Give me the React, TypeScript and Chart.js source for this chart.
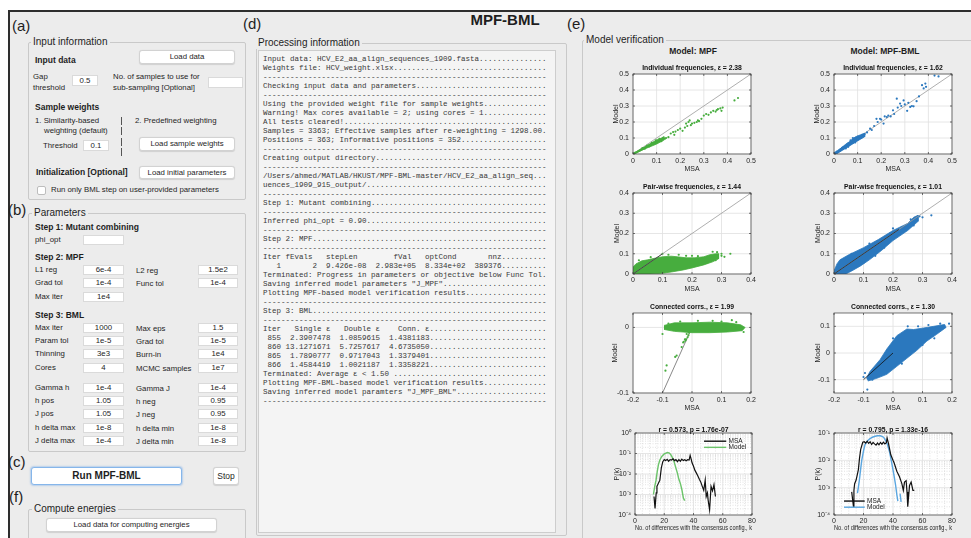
import React, { useEffect, useRef } from "react";
import { Chart, registerables } from "chart.js";
Chart.register(...registerables);

const SANS = '"Liberation Sans", Arial, Helvetica, sans-serif';
const MONO = '"Liberation Mono", "Courier New", monospace';
const BG = "#ececec";
const TXT = "#1e1e1e";
const AX = "#262626";
const GREEN = "#47ad3e";
const BLUE = "#2b78be";
const GREEN_LINE = "#6cc46a";
const BLUE_LINE = "#5aa6e0";

type P = [number, number];

// ---------------- tick values ----------------
const unitTicks5 = [0, 0.1, 0.2, 0.3, 0.4, 0.5];
const unitTicks4 = [0, 0.1, 0.2, 0.3, 0.4];
const corrXTicks = [-0.2, -0.1, 0, 0.1, 0.2];
const corrYTicksMPF = [-0.1, 0];
const corrYTicksBML = [-0.1, 0, 0.1];
const kTicks = [0, 20, 40, 60, 80];
const kMinor = [5, 10, 15, 25, 30, 35, 45, 50, 55, 65, 70, 75];
const decadesMPF = [1e-4, 1e-3, 1e-2, 1e-1, 1];
const decadesBML = [1e-4, 1e-3, 1e-2, 1e-1];

// ---------------- MPF: individual frequencies ----------------
const mpfSingleBand: P[] = [[0, 0.001], [0.05, 0.045], [0.1, 0.088], [0.13, 0.104], [0.13, 0.086], [0.1, 0.062], [0.05, 0.032], [0.005, 0]];
const mpfSinglePts: P[] = [
  [0.002, 0.001], [0.006, 0.004], [0.01, 0.008], [0.015, 0.011], [0.02, 0.015], [0.025, 0.019], [0.03, 0.023],
  [0.035, 0.027], [0.04, 0.031], [0.045, 0.035], [0.05, 0.039], [0.055, 0.043], [0.06, 0.047], [0.065, 0.05],
  [0.07, 0.055], [0.075, 0.058], [0.08, 0.062], [0.085, 0.065], [0.09, 0.07], [0.095, 0.072], [0.1, 0.077],
  [0.105, 0.08], [0.11, 0.084], [0.115, 0.087], [0.12, 0.091], [0.125, 0.098], [0.128, 0.1], [0.13, 0.104],
  [0.05, 0.033], [0.07, 0.048], [0.09, 0.064], [0.1, 0.07], [0.06, 0.052], [0.08, 0.07], [0.04, 0.037],
  [0.097, 0.085], [0.112, 0.095], [0.12, 0.08], [0.135, 0.095],
  [0.14, 0.1], [0.15, 0.105], [0.16, 0.128], [0.17, 0.137], [0.175, 0.12], [0.18, 0.14], [0.19, 0.15],
  [0.2, 0.158], [0.21, 0.145], [0.22, 0.165], [0.225, 0.19], [0.23, 0.175], [0.235, 0.2], [0.24, 0.21],
  [0.245, 0.18], [0.25, 0.19], [0.26, 0.195], [0.27, 0.2], [0.275, 0.21], [0.28, 0.205], [0.29, 0.22],
  [0.3, 0.24], [0.31, 0.25], [0.32, 0.245], [0.33, 0.26], [0.34, 0.27], [0.35, 0.265], [0.355, 0.275],
  [0.36, 0.28], [0.37, 0.285], [0.375, 0.27], [0.38, 0.29], [0.43, 0.335], [0.445, 0.35],
];
// ---------------- MPF: pair-wise frequencies ----------------
const mpfPairCloud: P[] = [
  [0, 0.035], [0.01, 0.05], [0.03, 0.065], [0.05, 0.07], [0.08, 0.08], [0.1, 0.085], [0.13, 0.088], [0.15, 0.085],
  [0.18, 0.08], [0.21, 0.08], [0.24, 0.085], [0.26, 0.095], [0.28, 0.1], [0.29, 0.1],
  [0.29, 0.075], [0.27, 0.06], [0.24, 0.045], [0.2, 0.03], [0.17, 0.02], [0.13, 0.01], [0.1, 0.004], [0.06, 0], [0, 0],
];
const mpfPairPts: P[] = [
  [0.1, 0.1], [0.12, 0.095], [0.155, 0.095], [0.2, 0.09], [0.27, 0.11], [0.285, 0.108], [0.3, 0.09], [0.31, 0.085],
  [0.33, 0.1], [0.25, 0.055], [0.28, 0.068], [0.22, 0.088], [0.06, 0.083], [0.02, 0.068], [0.3, 0.1], [0.18, 0.09],
];
// ---------------- MPF: connected correlations ----------------
const mpfCorrBand: P[] = [
  [-0.095, 0.003], [-0.06, 0.007], [0, 0.007], [0.06, 0.008], [0.12, 0.007], [0.165, 0.004], [0.18, 0],
  [0.17, -0.005], [0.12, -0.007], [0.06, -0.008], [0, -0.008], [-0.06, -0.006], [-0.095, -0.003],
];
const mpfCorrPts: P[] = [
  [-0.01, -0.008], [-0.012, -0.012], [-0.015, -0.015], [-0.018, -0.01], [-0.02, -0.018], [-0.022, -0.02],
  [-0.024, -0.018], [-0.028, -0.022], [-0.03, -0.023], [-0.035, -0.03], [-0.052, -0.043], [-0.057, -0.045],
  [-0.086, -0.058], [-0.09, -0.066], [-0.1, -0.01], [0.135, 0.011], [0.07, 0.01], [-0.04, 0.009], [0.1, 0.009],
  [0.02, 0.01], [-0.08, 0.006], [0.175, -0.007], [0.15, 0.008], [-0.013, -0.006],
];
// ---------------- P(k), MPF ----------------
const mpfMsaPk: P[] = [
  [13, 8e-4], [13.7, 2.1e-4], [14.5, 1.2e-3], [15, 2.5e-3], [16, 3.5e-3], [17, 5e-3], [18, 2e-2], [19, 4e-2],
  [20, 5e-2], [21, 4.5e-2], [22, 5.2e-2], [23, 4.2e-2], [24, 5e-2], [25, 4.8e-2], [26, 5.5e-2], [27, 4.5e-2],
  [28, 5e-2], [29, 4e-2], [30, 5e-2], [31, 4.2e-2], [32, 5.3e-2], [33, 4.5e-2], [34, 5e-2], [35, 4.4e-2],
  [36, 5e-2], [37, 4.8e-2], [37.7, 8e-2], [38.5, 5e-2], [39, 3.5e-2], [40, 2.4e-2], [41, 1.5e-2], [42, 1.1e-2],
  [43, 8e-3], [44, 5.5e-3], [45, 4e-3], [46, 2.5e-3], [47, 1.6e-3], [48, 5e-3], [48.7, 8e-4], [49.5, 1.2e-3],
  [50, 5.4e-4], [51, 1.8e-4], [52, 2.5e-3], [53, 1.5e-3], [54, 3e-3], [55, 8e-4],
];
const mpfModelPk: P[] = [
  [12.6, 1e-3], [13.5, 2.5e-3], [14.4, 5e-3], [15.2, 1.3e-2], [16, 2.8e-2], [17, 4.8e-2], [18.3, 7.2e-2],
  [20, 9.5e-2], [22.2, 1.12e-1], [23.5, 1.05e-1], [24.5, 8.7e-2], [26, 5.5e-2], [27, 3.4e-2], [28, 1.9e-2],
  [29, 1.1e-2], [30, 5.5e-3], [31, 3.5e-3], [32, 1.8e-3], [33.1, 6.6e-4], [34, 5e-4],
];

// ---------------- MPF-BML: individual frequencies ----------------
const bmlSingleBand: P[] = [[0, 0.004], [0.05, 0.06], [0.1, 0.113], [0.13, 0.13], [0.13, 0.108], [0.1, 0.082], [0.05, 0.036], [0.01, 0]];
const bmlSinglePts: P[] = [
  [0.003, 0.002], [0.006, 0.008], [0.01, 0.007], [0.012, 0.015], [0.016, 0.012], [0.02, 0.022], [0.024, 0.018],
  [0.028, 0.03], [0.03, 0.025], [0.034, 0.038], [0.038, 0.032], [0.04, 0.045], [0.044, 0.04], [0.048, 0.052],
  [0.05, 0.044], [0.054, 0.06], [0.056, 0.05], [0.06, 0.066], [0.063, 0.055], [0.066, 0.072], [0.07, 0.062],
  [0.072, 0.08], [0.075, 0.068], [0.078, 0.088], [0.08, 0.07], [0.083, 0.095], [0.085, 0.078], [0.088, 0.1],
  [0.09, 0.082], [0.093, 0.104], [0.095, 0.088], [0.1, 0.108], [0.1, 0.09], [0.105, 0.098], [0.11, 0.11],
  [0.115, 0.1], [0.12, 0.12], [0.125, 0.112], [0.13, 0.125], [0.05, 0.035], [0.06, 0.045], [0.07, 0.085],
  [0.08, 0.1], [0.09, 0.072], [0.14, 0.135], [0.153, 0.158], [0.16, 0.15], [0.17, 0.175], [0.18, 0.22],
  [0.185, 0.2], [0.195, 0.22], [0.2, 0.215], [0.21, 0.19], [0.215, 0.235], [0.224, 0.231], [0.23, 0.24],
  [0.24, 0.235], [0.25, 0.273], [0.255, 0.25], [0.266, 0.346], [0.27, 0.29], [0.28, 0.315], [0.285, 0.3],
  [0.295, 0.335], [0.3, 0.31], [0.31, 0.27], [0.315, 0.32], [0.323, 0.294], [0.33, 0.3], [0.337, 0.298],
  [0.35, 0.33], [0.36, 0.36], [0.373, 0.43], [0.38, 0.41], [0.387, 0.44], [0.39, 0.42], [0.426, 0.49], [0.443, 0.485],
];
// ---------------- MPF-BML: pair-wise frequencies ----------------
const bmlPairCloud: P[] = [
  [0, 0.015], [0.01, 0.05], [0.02, 0.07], [0.05, 0.095], [0.1, 0.13], [0.15, 0.17], [0.2, 0.215], [0.25, 0.25],
  [0.27, 0.28], [0.285, 0.29], [0.285, 0.26], [0.25, 0.215], [0.2, 0.165], [0.16, 0.115], [0.12, 0.07],
  [0.09, 0.04], [0.06, 0.015], [0.04, 0], [0, 0],
];
const bmlPairPts: P[] = [
  [0.3, 0.28], [0.33, 0.29], [0.27, 0.24], [0.22, 0.2], [0.19, 0.2], [0.12, 0.15], [0.17, 0.13], [0.14, 0.09],
  [0.06, 0.1], [0.1, 0.055], [0.23, 0.23], [0.26, 0.27], [0.29, 0.285], [0.2, 0.225],
];
// ---------------- MPF-BML: connected correlations ----------------
const bmlCorrCloud: P[] = [
  [-0.09, -0.095], [-0.078, -0.069], [-0.044, -0.025], [-0.021, 0.015], [0.013, 0.065], [0.047, 0.09],
  [0.07, 0.088], [0.104, 0.094], [0.138, 0.1], [0.175, 0.107], [0.18, 0.096], [0.148, 0.07], [0.115, 0.045],
  [0.081, 0.01], [0.047, -0.02], [0.013, -0.05], [-0.021, -0.08], [-0.055, -0.095], [-0.085, -0.105],
];
const bmlCorrPts: P[] = [
  [-0.087, -0.137], [-0.095, -0.075], [-0.1, -0.09], [0.19, 0.11], [0.16, 0.11], [0.12, 0.105], [0.05, 0.1],
  [0, 0.055], [0.1, 0.03], [0.14, 0.055], [-0.06, -0.065], [0.03, -0.04], [-0.07, -0.1], [0.085, 0.1],
];
// ---------------- P(k), MPF-BML ----------------
const bmlMsaPk: P[] = [
  [12, 7e-4], [13.2, 2e-4], [13.5, 8e-4], [14, 1.4e-3], [15, 1.9e-3], [16.5, 4.5e-3], [17.3, 1.2e-2],
  [18.1, 2.5e-2], [19.5, 4.6e-2], [20.5, 4.8e-2], [21.5, 4.3e-2], [22.5, 5e-2], [23.5, 4.2e-2], [24.5, 4.8e-2],
  [25.5, 3.8e-2], [26.5, 4.5e-2], [27.5, 4e-2], [28.5, 3.6e-2], [29.5, 4.3e-2], [30.5, 3.7e-2], [31.5, 4.5e-2],
  [32.5, 3.9e-2], [33.5, 4.6e-2], [34.5, 4e-2], [35.5, 4.4e-2], [36, 6.6e-2], [37, 4e-2], [38.5, 1.6e-2],
  [40, 1e-2], [40.8, 8e-3], [42.6, 4e-3], [44.4, 2.5e-3], [46, 1.4e-3], [47, 8e-4], [47.8, 1.6e-3],
  [48.9, 1.8e-3], [49.5, 7e-4], [50, 2e-4], [51.2, 1.2e-3], [52.3, 1.6e-3], [53.5, 8e-4], [54.4, 8e-4],
];
const bmlModelPk: P[] = [
  [15.9, 6.3e-4], [16.5, 1e-3], [17.2, 1.9e-3], [18, 4.5e-3], [18.8, 1e-2], [20, 2.2e-2], [21, 3.7e-2],
  [22.5, 5e-2], [24, 6e-2], [26, 7e-2], [27.9, 7.6e-2], [29.5, 7.9e-2], [31.3, 7.9e-2], [32.5, 7.5e-2],
  [33.6, 7e-2], [35, 5.3e-2], [36.3, 3.7e-2], [37.5, 2.2e-2], [38.5, 1.2e-2], [39.7, 5.5e-3], [40.8, 2.6e-3],
  [41.8, 1.2e-3], [42.6, 5.5e-4], [43.3, 3.2e-4],
];
const bmlModelPkTail: P[] = [[44.8, 6e-4], [45.5, 3e-4]];

// identity lines
const diag5: P[] = [[0, 0], [0.5, 0.5]];
const diag4: P[] = [[0, 0], [0.4, 0.4]];
const diagCloudMPF: P[] = [[0, 0], [0.1, 0.1]];
const diagCloudBML: P[] = [[0, 0], [0.22, 0.22]];
const diagCorr: P[] = [[-0.1, -0.1], [0, 0]];

// ---------------- helpers ----------------
const toXY = (a: P[]) => a.map(([x, y]) => ({ x, y }));
const pts = (d: P[], c: string) => ({ data: toXY(d), showLine: false, pointRadius: 1.1, pointBackgroundColor: c, pointBorderWidth: 0, borderColor: c });
const poly = (d: P[], c: string) => ({ data: toXY(d), showLine: true, fill: "shape", backgroundColor: c, borderColor: c, borderWidth: 0.8, pointRadius: 0, tension: 0 });
const line = (d: P[], c: string, w: number) => ({ data: toXY(d), showLine: true, fill: false, borderColor: c, borderWidth: w, pointRadius: 0, tension: 0 });

const SUP: Record<string, string> = { "-": "⁻", "0": "⁰", "1": "¹", "2": "²", "3": "³", "4": "⁴", "5": "⁵", "6": "⁶", "7": "⁷", "8": "⁸", "9": "⁹" };
const powLabel = (v: number) => "10" + String(Math.round(Math.log10(v))).split("").map((c) => SUP[c]).join("");
const minorDecades = (m: number[]) => {
  const out: number[] = [];
  for (let i = 0; i < m.length - 1; i++) for (let k = 2; k <= 9; k++) out.push(m[i] * k);
  return out;
};

interface Spec {
  left: number; top: number; w: number; h: number; xh: number;
  title: string; titleGap: number;
  yLabel: string; yLabelGap: number; xLabel: string; xLabelGap: number; xTickGap: number; xLabelSize?: number;
  xMin: number; xMax: number; yMin: number; yMax: number; yLog?: boolean;
  xTicks: number[]; yTicks: number[]; xMinor?: number[]; yMinor?: number[];
  datasets: any[];
  legend?: { x0: number; x1: number; tx: number; items: { y: number; color: string; text: string }[] };
}

const YW = 34, PAD_R = 10, PAD_T = 12;

function axesPlugin(s: Spec) {
  return {
    id: "matlabAxes",
    beforeDatasetsDraw(chart: any) {
      const { ctx, chartArea: a, scales } = chart;
      const x = scales.x, y = scales.y;
      ctx.save();
      ctx.fillStyle = "#ffffff";
      ctx.fillRect(a.left, a.top, a.right - a.left, a.bottom - a.top);
      ctx.lineWidth = 0.6;
      ctx.strokeStyle = "#cfcfcf";
      ctx.setLineDash([1, 1.5]);
      for (const v of s.xMinor || []) { const p = x.getPixelForValue(v); ctx.beginPath(); ctx.moveTo(p, a.top); ctx.lineTo(p, a.bottom); ctx.stroke(); }
      for (const v of s.yMinor || []) { const p = y.getPixelForValue(v); ctx.beginPath(); ctx.moveTo(a.left, p); ctx.lineTo(a.right, p); ctx.stroke(); }
      ctx.setLineDash([]);
      ctx.strokeStyle = "#e0e0e0";
      ctx.lineWidth = 0.8;
      for (const v of s.xTicks) { const p = x.getPixelForValue(v); ctx.beginPath(); ctx.moveTo(p, a.top); ctx.lineTo(p, a.bottom); ctx.stroke(); }
      for (const v of s.yTicks) { const p = y.getPixelForValue(v); ctx.beginPath(); ctx.moveTo(a.left, p); ctx.lineTo(a.right, p); ctx.stroke(); }
      ctx.restore();
    },
    afterDatasetsDraw(chart: any) {
      const { ctx, chartArea: a, scales } = chart;
      const x = scales.x, y = scales.y;
      ctx.save();
      ctx.strokeStyle = "#3a3a3a";
      ctx.lineWidth = 0.7;
      ctx.strokeRect(a.left, a.top, a.right - a.left, a.bottom - a.top);
      const tl = 2;
      ctx.beginPath();
      for (const v of s.xTicks) {
        const p = x.getPixelForValue(v);
        ctx.moveTo(p, a.bottom); ctx.lineTo(p, a.bottom - tl);
        ctx.moveTo(p, a.top); ctx.lineTo(p, a.top + tl);
      }
      for (const v of s.yTicks) {
        const p = y.getPixelForValue(v);
        ctx.moveTo(a.left, p); ctx.lineTo(a.left + tl, p);
        ctx.moveTo(a.right, p); ctx.lineTo(a.right - tl, p);
      }
      ctx.stroke();
      ctx.restore();
    },
    afterDraw(chart: any) {
      const { ctx, chartArea: a } = chart;
      ctx.save();
      ctx.fillStyle = "#111";
      ctx.font = `bold 6.8px ${SANS}`;
      ctx.textAlign = "center";
      ctx.textBaseline = "middle";
      ctx.fillText(s.title, (a.left + a.right) / 2, a.top - s.titleGap);
      if (s.legend) {
        const L = s.legend;
        const W = a.right - a.left, H = a.bottom - a.top;
        ctx.font = `6.5px ${SANS}`;
        ctx.textAlign = "left";
        for (const it of L.items) {
          const yy = a.top + it.y * H;
          ctx.strokeStyle = it.color;
          ctx.lineWidth = 1.4;
          ctx.beginPath();
          ctx.moveTo(a.left + L.x0 * W, yy);
          ctx.lineTo(a.left + L.x1 * W, yy);
          ctx.stroke();
          ctx.fillStyle = "#222";
          ctx.fillText(it.text, a.left + L.tx * W, yy);
        }
      }
      ctx.restore();
    },
  };
}

function buildConfig(s: Spec): any {
  const lh = 7 * 1.2;
  const font = { size: 7, family: SANS };
  const xls = s.xLabelSize ?? 7;
  return {
    type: "scatter",
    data: { datasets: s.datasets },
    plugins: [axesPlugin(s)],
    options: {
      animation: false,
      responsive: false,
      maintainAspectRatio: false,
      events: [],
      layout: { autoPadding: false, padding: { top: PAD_T, right: PAD_R, bottom: 0, left: 0 } },
      plugins: { legend: { display: false }, tooltip: { enabled: false }, title: { display: false } },
      scales: {
        x: {
          type: "linear",
          position: "bottom",
          min: s.xMin,
          max: s.xMax,
          afterBuildTicks: (sc: any) => { sc.ticks = s.xTicks.map((v) => ({ value: v })); },
          afterFit: (sc: any) => { sc.height = s.xh; },
          grid: { display: false, drawTicks: false },
          border: { display: false },
          ticks: { autoSkip: false, maxRotation: 0, minRotation: 0, padding: s.xTickGap - lh / 2, color: AX, font, callback: (v: any) => String(v) },
          title: { display: true, text: s.xLabel, color: AX, font: { size: xls, family: SANS }, padding: { top: 0, bottom: s.xh - s.xLabelGap - (xls * 1.2) / 2 } },
        },
        y: {
          type: s.yLog ? "logarithmic" : "linear",
          position: "left",
          min: s.yMin,
          max: s.yMax,
          afterBuildTicks: (sc: any) => { sc.ticks = s.yTicks.map((v) => ({ value: v })); },
          afterFit: (sc: any) => { sc.width = YW; },
          grid: { display: false, drawTicks: false },
          border: { display: false },
          ticks: { autoSkip: false, padding: 4, color: AX, font, callback: (v: any) => (s.yLog ? powLabel(Number(v)) : String(v)) },
          title: { display: true, text: s.yLabel, color: AX, font, padding: { top: YW - s.yLabelGap - lh / 2, bottom: 0 } },
        },
      },
    },
  };
}

function Plot({ s }: { s: Spec }) {
  const ref = useRef<HTMLCanvasElement>(null);
  const cw = YW + s.w + PAD_R;
  const ch = PAD_T + s.h + s.xh;
  useEffect(() => {
    const chart = new Chart(ref.current as HTMLCanvasElement, buildConfig(s));
    return () => chart.destroy();
  }, []);
  return (
    <canvas ref={ref} width={cw} height={ch}
      style={{ position: "absolute", left: s.left - YW, top: s.top - PAD_T, width: cw, height: ch }} />
  );
}

const scatterBase = { xh: 24, titleGap: 5.4, xLabel: "MSA", yLabel: "Model", xLabelGap: 15, xTickGap: 7.5 };

const specs: Spec[] = [
  {
    ...scatterBase, left: 633, top: 74, w: 118, h: 80, yLabelGap: 17,
    title: "Individual frequencies, ε = 2.38", xMin: 0, xMax: 0.5, yMin: 0, yMax: 0.5,
    xTicks: unitTicks5, yTicks: unitTicks5,
    datasets: [pts(mpfSinglePts, GREEN), poly(mpfSingleBand, GREEN), line(diag5, "#9a9a9a", 0.8)],
  },
  {
    ...scatterBase, left: 633, top: 193, w: 118, h: 81, yLabelGap: 16, xTickGap: 6.5,
    title: "Pair-wise frequencies, ε = 1.44", xMin: 0, xMax: 0.4, yMin: 0, yMax: 0.4,
    xTicks: unitTicks4, yTicks: unitTicks4,
    datasets: [line(diagCloudMPF, "#333333", 0.8), line(diag4, "#9a9a9a", 0.8), pts(mpfPairPts, GREEN), poly(mpfPairCloud, GREEN)],
  },
  {
    ...scatterBase, left: 633, top: 313, w: 118, h: 80, yLabelGap: 17.5, xTickGap: 7,
    title: "Connected corrs., ε = 1.99", xMin: -0.2, xMax: 0.2, yMin: -0.1, yMax: 0.022,
    xTicks: corrXTicks, yTicks: corrYTicksMPF,
    datasets: [pts(mpfCorrPts, GREEN), poly(mpfCorrBand, GREEN), line(diagCorr, "#6a6a6a", 0.8)],
  },
  {
    left: 635, top: 433, w: 117, h: 82, xh: 20, titleGap: 3.3, xTickGap: 5.7, xLabelSize: 8,
    xLabel: "No. of differences with the consensus config., k", xLabelGap: 13, yLabel: "P(k)", yLabelGap: 17.5,
    title: "r = 0.573, p = 1.76e-07", xMin: 0, xMax: 80, yMin: 1e-4, yMax: 1, yLog: true,
    xTicks: kTicks, yTicks: decadesMPF, xMinor: kMinor, yMinor: minorDecades(decadesMPF),
    datasets: [line(mpfMsaPk, "#111111", 1.2), line(mpfModelPk, GREEN_LINE, 1.4)],
    legend: { x0: 0.59, x1: 0.78, tx: 0.8, items: [{ y: 0.1, color: "#111111", text: "MSA" }, { y: 0.175, color: GREEN_LINE, text: "Model" }] },
  },
  {
    ...scatterBase, left: 834, top: 74, w: 118, h: 80, yLabelGap: 17,
    title: "Individual frequencies, ε = 1.62", xMin: 0, xMax: 0.5, yMin: 0, yMax: 0.5,
    xTicks: unitTicks5, yTicks: unitTicks5,
    datasets: [pts(bmlSinglePts, BLUE), poly(bmlSingleBand, BLUE), line(diag5, "#9a9a9a", 0.8)],
  },
  {
    ...scatterBase, left: 834, top: 193, w: 118, h: 81, yLabelGap: 16, xTickGap: 6.5,
    title: "Pair-wise frequencies, ε = 1.01", xMin: 0, xMax: 0.4, yMin: 0, yMax: 0.4,
    xTicks: unitTicks4, yTicks: unitTicks4,
    datasets: [line(diagCloudBML, "#222222", 0.8), line(diag4, "#9a9a9a", 0.8), pts(bmlPairPts, BLUE), poly(bmlPairCloud, BLUE)],
  },
  {
    ...scatterBase, left: 834, top: 313, w: 118, h: 80, yLabelGap: 16, xTickGap: 7,
    title: "Connected corrs., ε = 1.30", xMin: -0.2, xMax: 0.2, yMin: -0.15, yMax: 0.15,
    xTicks: corrXTicks, yTicks: corrYTicksBML,
    datasets: [line(diagCorr, "#111111", 0.8), pts(bmlCorrPts, BLUE), poly(bmlCorrCloud, BLUE)],
  },
  {
    left: 834, top: 433, w: 118, h: 82, xh: 20, titleGap: 3.3, xTickGap: 5.7, xLabelSize: 8,
    xLabel: "No. of differences with the consensus config., k", xLabelGap: 13, yLabel: "P(k)", yLabelGap: 16,
    title: "r = 0.795, p = 1.33e-16", xMin: 0, xMax: 80, yMin: 1e-4, yMax: 1e-1, yLog: true,
    xTicks: kTicks, yTicks: decadesBML, xMinor: kMinor, yMinor: minorDecades(decadesBML),
    datasets: [line(bmlMsaPk, "#111111", 1.2), line(bmlModelPk, BLUE_LINE, 1.4), line(bmlModelPkTail, BLUE_LINE, 1.4)],
    legend: { x0: 0.085, x1: 0.26, tx: 0.28, items: [{ y: 0.83, color: "#111111", text: "MSA" }, { y: 0.905, color: BLUE_LINE, text: "Model" }] },
  },
];

// ---------------- processing log text ----------------
const W63 = 63;
const dots = (s: string) => s + ".".repeat(Math.max(0, W63 - s.length));
const DASH = "-".repeat(W63);
const logLines = [
  dots("Input data: HCV_E2_aa_align_sequences_1909.fasta"),
  dots("Weights file: HCV_weight.xlsx"),
  DASH,
  dots("Checking input data and parameters"),
  DASH,
  dots("Using the provided weight file for sample weights"),
  dots("Warning! Max cores available = 2; using cores = 1"),
  dots("All tests cleared!"),
  "Samples = 3363; Effective samples after re-weighting = 1298.00.",
  dots("Positions = 363; Informative positions = 352"),
  DASH,
  dots("Creating output directory"),
  DASH,
  "/Users/ahmed/MATLAB/HKUST/MPF-BML-master/HCV_E2_aa_align_seq...",
  dots("uences_1909_915_output/"),
  DASH,
  dots("Step 1: Mutant combining"),
  DASH,
  dots("Inferred phi_opt = 0.90"),
  DASH,
  dots("Step 2: MPF"),
  DASH,
  dots("Iter fEvals   stepLen        fVal   optCond       nnz"),
  dots("   1       2  9.426e-08  2.983e+05  8.334e+02  389376"),
  "Terminated: Progress in parameters or objective below Func Tol.",
  dots('Saving inferred model parameters "J_MPF"'),
  dots("Plotting MPF-based model verification results"),
  DASH,
  dots("Step 3: BML"),
  DASH,
  dots("Iter   Single ε   Double ε    Conn. ε"),
  dots(" 855  2.3907478  1.0859615  1.4381183"),
  dots(" 860 13.1271671  5.7257617  4.6735050"),
  dots(" 865  1.7890777  0.9717043  1.3379401"),
  dots(" 866  1.4584419  1.0021187  1.3358221"),
  dots("Terminated: Average ε < 1.50 "),
  dots("Plotting MPF-BML-based model verification results"),
  dots('Saving inferred model paramters "J_MPF_BML"'),
  DASH,
];

// ---------------- GUI parameter rows ----------------
type Row = [string, string, string | null, string | null, number];
const mpfRows: Row[] = [
  ["L1 reg", "6e-4", "L2 reg", "1.5e2", 265],
  ["Grad tol", "1e-4", "Func tol", "1e-4", 278],
  ["Max iter", "1e4", null, null, 292],
];
const bmlRows: Row[] = [
  ["Max iter", "1000", "Max eps", "1.5", 323],
  ["Param tol", "1e-5", "Grad tol", "1e-5", 336],
  ["Thinning", "3e3", "Burn-in", "1e4", 349],
  ["Cores", "4", "MCMC samples", "1e7", 363],
  ["Gamma h", "1e-4", "Gamma J", "1e-4", 383],
  ["h pos", "1.05", "h neg", "0.95", 396],
  ["J pos", "1.05", "J neg", "0.95", 409],
  ["h delta max", "1e-8", "h delta min", "1e-8", 423],
  ["J delta max", "1e-4", "J delta min", "1e-8", 436],
];
const separatorTops = [117, 127, 138, 148];

// ---------------- GUI components ----------------
function Txt(p: { x: number; y: number; t: string; size?: number; bold?: boolean; center?: boolean; color?: string; bg?: string }) {
  const size = p.size ?? 7.8;
  return (
    <div style={{
      position: "absolute", left: p.x, top: p.y - size * 0.6, fontSize: size, lineHeight: `${size * 1.2}px`,
      fontWeight: p.bold ? "bold" : "normal", whiteSpace: "nowrap", fontFamily: SANS, color: p.color ?? TXT,
      transform: p.center ? "translateX(-50%)" : undefined, background: p.bg, padding: p.bg ? "0 2px" : undefined,
    }}>{p.t}</div>
  );
}
function Box(p: { x: number; y: number; w: number; h: number; v?: string }) {
  return (
    <div style={{
      position: "absolute", left: p.x, top: p.y, width: p.w, height: p.h, boxSizing: "border-box",
      background: "#fff", border: "1px solid #dadada", fontFamily: SANS, fontSize: 7.8, color: TXT,
      textAlign: "center", lineHeight: `${p.h - 2}px`,
    }}>{p.v ?? ""}</div>
  );
}
function Btn(p: { x: number; y: number; w: number; h: number; t: string; size?: number; bold?: boolean; focus?: boolean }) {
  return (
    <div style={{
      position: "absolute", left: p.x, top: p.y, width: p.w, height: p.h, boxSizing: "border-box",
      background: "#fff", border: p.focus ? "1.5px solid #86b6ea" : "1px solid #d2d2d2", borderRadius: 3,
      boxShadow: p.focus ? "0 0 1.5px 1px rgba(120,170,230,0.45)" : "0 0.5px 1px rgba(0,0,0,0.12)",
      fontFamily: SANS, fontSize: p.size ?? 7.8, fontWeight: p.bold ? "bold" : "normal", color: TXT,
      textAlign: "center", lineHeight: `${p.h - (p.focus ? 3 : 2)}px`, whiteSpace: "nowrap",
    }}>{p.t}</div>
  );
}
function Panel(p: { x: number; y: number; w: number; h: number; title: string; tx: number }) {
  return (
    <>
      <div style={{ position: "absolute", left: p.x, top: p.y, width: p.w, height: p.h, boxSizing: "border-box", border: "1px solid #c9c9c9", borderRadius: 2 }} />
      <Txt x={p.tx} y={p.y} t={p.title} size={10} bg={BG} />
    </>
  );
}

export default function App() {
  const L = 83, LW = 41, R = 198, RW = 40;
  return (
    <div style={{ position: "absolute", left: 0, top: 0, width: 971, height: 538, overflow: "hidden", background: "#fff", fontFamily: SANS }}>
      <div style={{ position: "absolute", left: 10, top: 11, width: 961, height: 527, background: BG }} />
      <div style={{ position: "absolute", left: 8, top: 9.5, width: 963, height: 2, background: "#2e2e2e" }} />
      <div style={{ position: "absolute", left: 8, top: 9.5, width: 2, height: 529, background: "#2e2e2e" }} />

      {/* section letters */}
      <Txt x={12} y={26} t="(a)" size={15} />
      <Txt x={8} y={210} t="(b)" size={15} />
      <Txt x={8} y={462} t="(c)" size={15} />
      <Txt x={9} y={497} t="(f)" size={15} />
      <Txt x={243} y={24} t="(d)" size={15} />
      <Txt x={567} y={24} t="(e)" size={15} />
      <Txt x={505} y={20} t="MPF-BML" size={15} bold center />

      {/* (a) input information */}
      <Panel x={28} y={42} w={218} h={158} title="Input information" tx={31} />
      <Txt x={35} y={60} t="Input data" bold size={8.5} />
      <Btn x={139} y={50} w={96} h={14} t="Load data" />
      <Txt x={33} y={77} t="Gap" />
      <Txt x={33} y={88} t="threshold" />
      <Box x={72} y={75} w={26} h={11} v="0.5" />
      <Txt x={113} y={77} t="No. of samples to use for" />
      <Txt x={113} y={88} t="sub-sampling [Optional]" />
      <Box x={208} y={77} w={35} h={11} />
      <Txt x={35} y={107} t="Sample weights" bold size={8.5} />
      <Txt x={35} y={121} t="1. Similarity-based" />
      <Txt x={44} y={131} t="weighting (default)" />
      {separatorTops.map((t, i) => (
        <div key={"sep" + i} style={{ position: "absolute", left: 121, top: t, width: 1, height: 8, background: "#555" }} />
      ))}
      <Txt x={135} y={121} t="2. Predefined weighting" />
      <Txt x={43} y={146} t="Threshold" />
      <Box x={83} y={140} w={26} h={11} v="0.1" />
      <Btn x={139} y={137} w={96} h={14} t="Load sample weights" />
      <Txt x={36} y={172} t="Initialization [Optional]" bold size={8.5} />
      <Btn x={139} y={166} w={96} h={13} t="Load initial parameters" />
      <div style={{ position: "absolute", left: 37, top: 186, width: 9, height: 9, boxSizing: "border-box", background: "#fff", border: "1px solid #bdbdbd", borderRadius: 2 }} />
      <Txt x={51} y={190} t="Run only BML step on user-provided parameters" />

      {/* (b) parameters */}
      <Panel x={28} y={213} w={218} h={239} title="Parameters" tx={32} />
      <Txt x={35} y={227} t="Step 1: Mutant combining" bold size={8.5} />
      <Txt x={35} y={240} t="phi_opt" />
      <Box x={L} y={235} w={LW} h={10} />
      <Txt x={35} y={257} t="Step 2: MPF" bold size={8.5} />
      {mpfRows.map((r, i) => (
        <React.Fragment key={"m" + i}>
          <Txt x={35} y={r[4] + 5} t={r[0]} />
          <Box x={L} y={r[4]} w={LW} h={10} v={r[1]} />
          {r[2] && <Txt x={136} y={r[4] + 5.5} t={r[2]} />}
          {r[3] && <Box x={R} y={r[4]} w={RW} h={10} v={r[3]} />}
        </React.Fragment>
      ))}
      <Txt x={35} y={315} t="Step 3: BML" bold size={8.5} />
      {bmlRows.map((r, i) => (
        <React.Fragment key={"b" + i}>
          <Txt x={35} y={r[4] + 5} t={r[0]} />
          <Box x={L} y={r[4]} w={LW} h={10} v={r[1]} />
          {r[2] && <Txt x={136} y={r[4] + 5.5} t={r[2]} />}
          {r[3] && <Box x={R} y={r[4]} w={RW} h={10} v={r[3]} />}
        </React.Fragment>
      ))}

      {/* (c) run */}
      <Btn x={31} y={467} w={151} h={18} t="Run MPF-BML" bold size={10} focus />
      <Btn x={213} y={467} w={26} h={18} t="Stop" size={8.5} />

      {/* (f) compute energies */}
      <Panel x={28} y={509} w={218} h={45} title="Compute energies" tx={32} />
      <Btn x={46} y={518} w={171} h={14} t="Load data for computing energies" />

      {/* (d) processing information */}
      <Panel x={256} y={43} w={311} h={493} title="Processing information" tx={256} />
      <div style={{ position: "absolute", left: 258, top: 50, width: 298, height: 483, boxSizing: "border-box", background: "#f4f4f4", border: "1px solid #cdcdcd" }} />
      <pre style={{
        position: "absolute", left: 263, top: 54.5, margin: 0, fontFamily: MONO, fontSize: 7.5, lineHeight: "9px", color: "#383838",
      }}>{logLines.join("\n")}</pre>

      {/* (e) model verification */}
      <Panel x={582} y={40} w={400} h={510} title="Model verification" tx={584} />
      <Txt x={693} y={51} t="Model: MPF" bold size={8.5} center />
      <Txt x={885} y={51} t="Model: MPF-BML" bold size={8.5} center />
      {specs.map((s, i) => <Plot key={i} s={s} />)}
    </div>
  );
}
